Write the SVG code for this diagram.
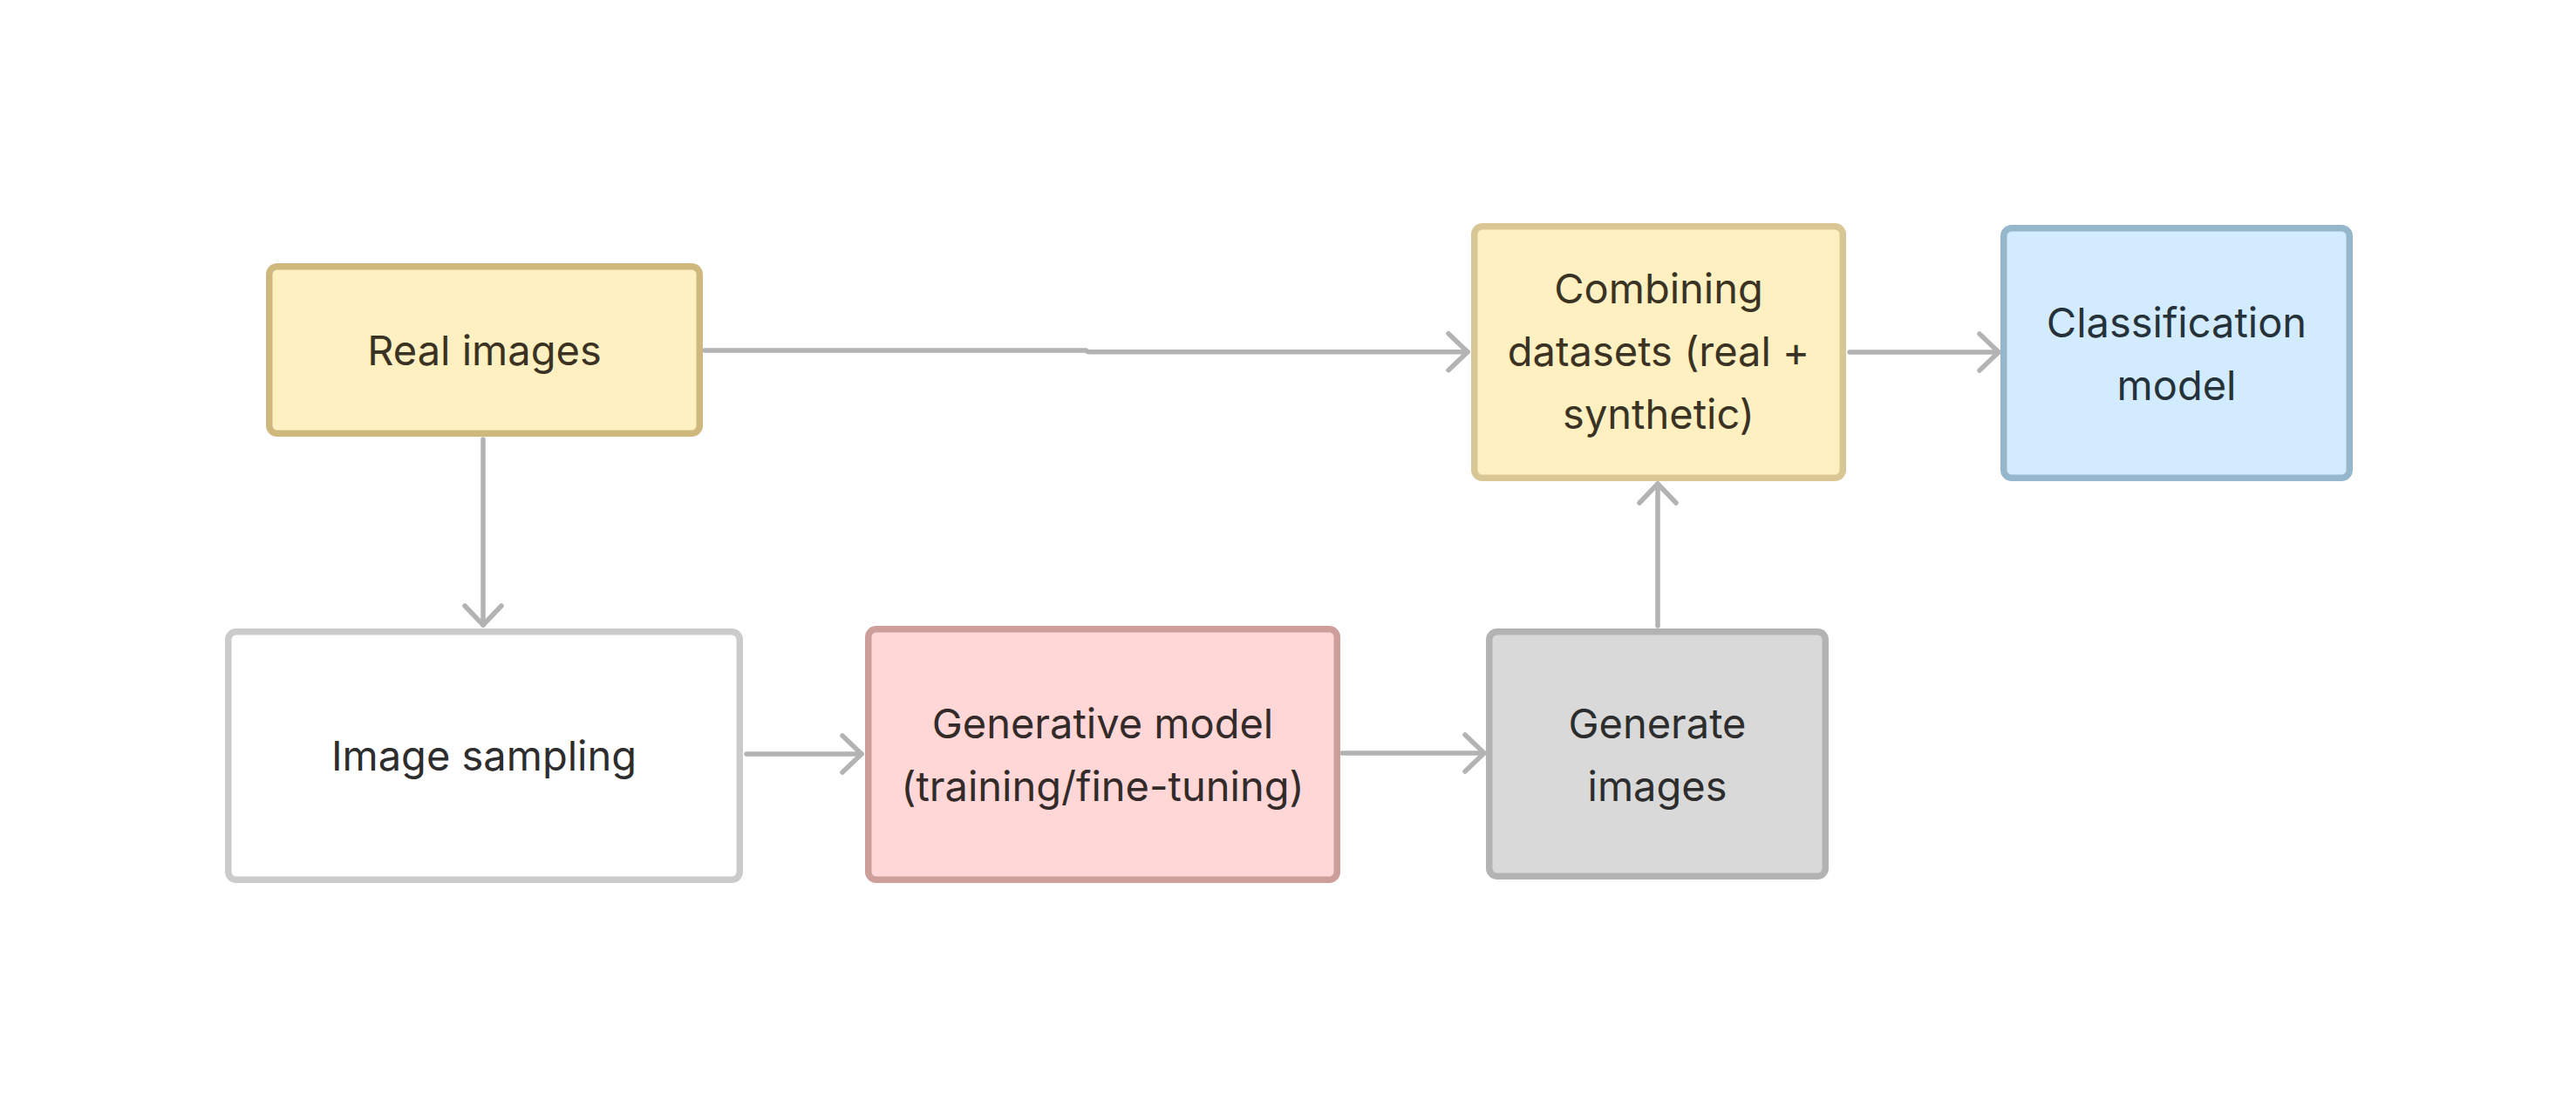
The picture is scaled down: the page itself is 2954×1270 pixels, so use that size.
<svg xmlns="http://www.w3.org/2000/svg" width="2954" height="1270" viewBox="0 0 2954 1270">
  <defs>
    <style>
      .node rect { stroke-width: 7.5; }
      .lbl { font-family: Inter, "Noto Sans", "Liberation Sans", sans-serif; font-size: 47px; text-anchor: middle; fill: #2d2d2d; }
      .edge { fill: none; stroke: #b3b3b3; stroke-width: 5.5; stroke-linecap: round; stroke-linejoin: round; }
      .yellow rect { fill: #fff0c1; stroke: #cfb87e; }
      .yellow2 rect { fill: #fff0c1; stroke: #d8c794; }
      .blue rect { fill: #d3ebff; stroke: #96b6cc; }
      .white rect { fill: #ffffff; stroke: #cbcbcb; }
      .pink rect { fill: #ffd7d6; stroke: #ce9e9b; }
      .gray rect { fill: #d9d9d9; stroke: #b3b3b3; }
    </style>
    <marker id="arrow" markerUnits="userSpaceOnUse" markerWidth="60" markerHeight="60" viewBox="-30 -30 60 60" refX="0" refY="0" orient="auto">
      <path d="M -22 -21 L 0 0 L -22 21" fill="none" stroke="#b3b3b3" stroke-width="5.5" stroke-linecap="round" stroke-linejoin="round"/>
    </marker>
  </defs>
  <rect x="0" y="0" width="2954" height="1270" fill="#ffffff"/>

  <g id="connectors">
    <path class="edge" d="M 808 402 H 1245 L 1248 403.7 H 1683" marker-end="url(#arrow)"/>
    <path class="edge" d="M 2121 404 H 2292" marker-end="url(#arrow)"/>
    <path class="edge" d="M 554 504 V 717" marker-end="url(#arrow)"/>
    <path class="edge" d="M 856 865 H 988" marker-end="url(#arrow)"/>
    <path class="edge" d="M 1539 864 H 1702" marker-end="url(#arrow)"/>
    <path class="edge" d="M 1901 718 V 555" marker-end="url(#arrow)"/>
  </g>

  <g id="node-real-images" class="node yellow">
    <rect x="308.75" y="305.75" width="493.5" height="191.5" rx="9"/>
    <text class="lbl" x="555.5" y="419" fill="#3a3323" style="fill:#3a3323">Real images</text>
  </g>

  <g id="node-combining" class="node yellow2">
    <rect x="1690.75" y="259.75" width="422.5" height="288.5" rx="9"/>
    <text class="lbl" x="1902" y="348" style="fill:#3a3323">Combining</text>
    <text class="lbl" x="1902" y="420" style="fill:#3a3323">datasets (real +</text>
    <text class="lbl" x="1902" y="492" style="fill:#3a3323">synthetic)</text>
  </g>

  <g id="node-classification" class="node blue">
    <rect x="2297.75" y="261.75" width="396.5" height="286.5" rx="9"/>
    <text class="lbl" x="2496" y="387" style="fill:#263239">Classification</text>
    <text class="lbl" x="2496" y="459" style="fill:#263239">model</text>
  </g>

  <g id="node-image-sampling" class="node white">
    <rect x="261.75" y="724.75" width="586.5" height="284.5" rx="9"/>
    <text class="lbl" x="555" y="884">Image sampling</text>
  </g>

  <g id="node-generative-model" class="node pink">
    <rect x="995.75" y="721.75" width="537.5" height="287.5" rx="9"/>
    <text class="lbl" x="1264.5" y="847" style="fill:#332a2a">Generative model</text>
    <text class="lbl" x="1264.5" y="919" style="fill:#332a2a">(training/fine-tuning)</text>
  </g>

  <g id="node-generate-images" class="node gray">
    <rect x="1707.75" y="724.75" width="385.5" height="280.5" rx="9"/>
    <text class="lbl" x="1900.5" y="847">Generate</text>
    <text class="lbl" x="1900.5" y="919">images</text>
  </g>
</svg>
